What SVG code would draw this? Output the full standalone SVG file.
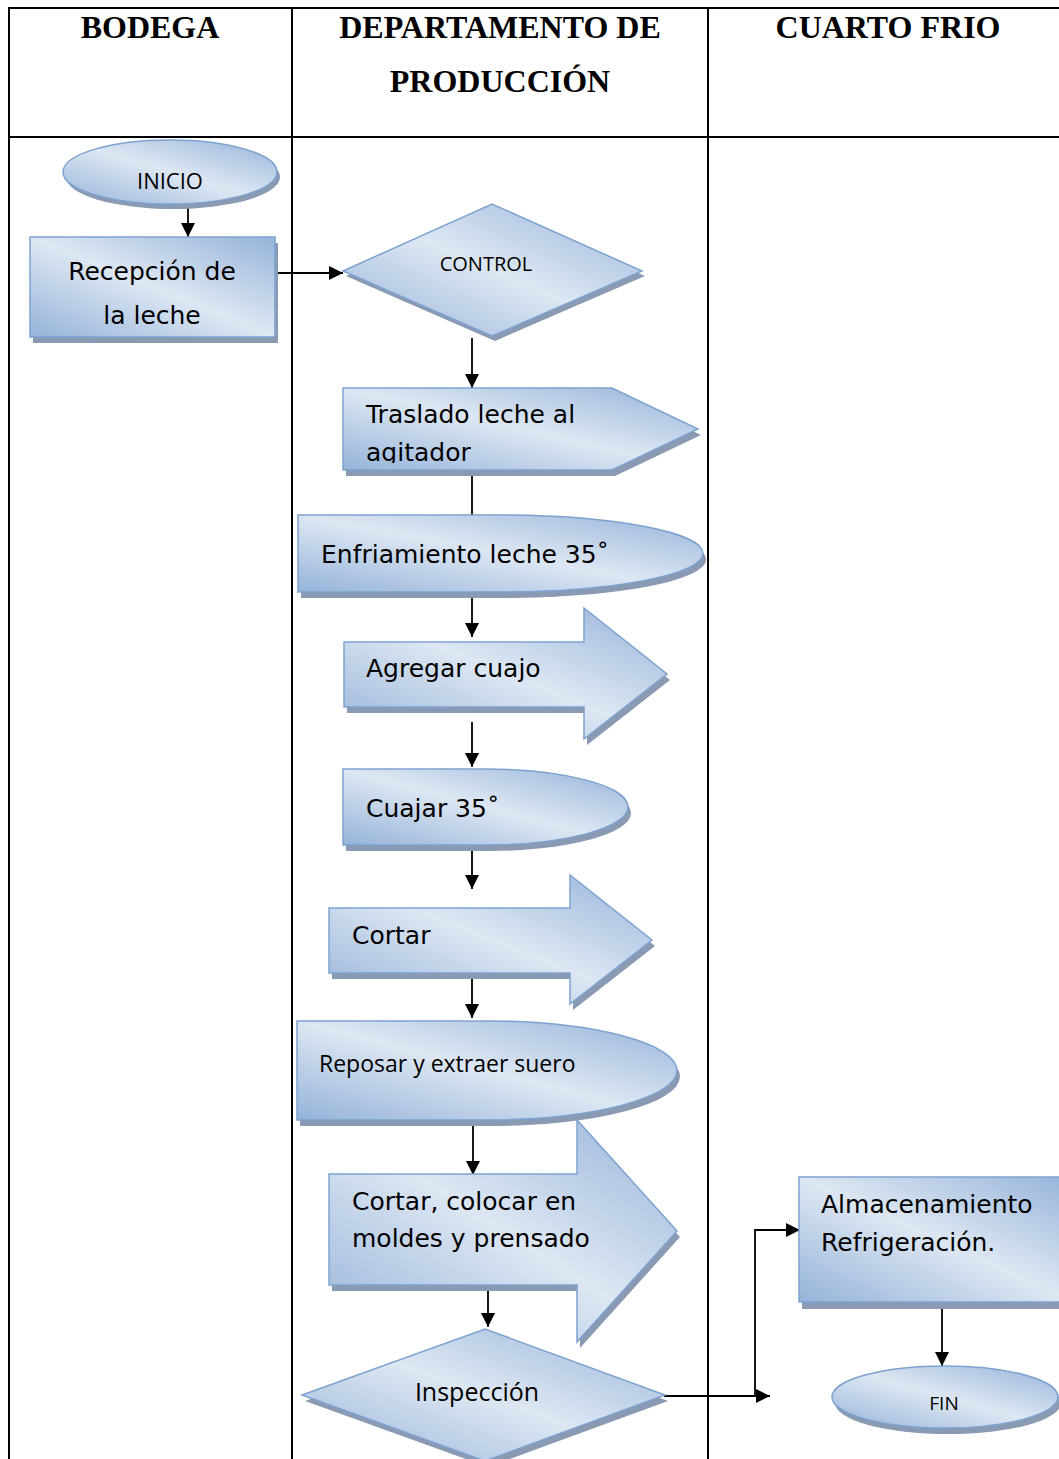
<svg xmlns="http://www.w3.org/2000/svg" xmlns:xlink="http://www.w3.org/1999/xlink" width="1059" height="1459" viewBox="0 0 1059 1459">
<style>
.tbl{stroke:#000;stroke-width:2;fill:none}
.hdr{font-family:"Liberation Serif","Times New Roman",serif;font-weight:bold;font-size:32px;fill:#000;text-anchor:middle}
.shape{fill:url(#g);stroke:#7da2d0;stroke-width:1.5}
.shd{fill:#8a9ab2;stroke:none}
.t1{font-family:"DejaVu Sans","Verdana",sans-serif;font-size:25px;fill:#000}
.t2{font-family:"Open Sans","Noto Sans",sans-serif;fill:#000}
.c{text-anchor:middle}
.cn{stroke:#000;stroke-width:1.8;fill:none}
.arr{marker-end:url(#ah)}
</style>
<defs>
<linearGradient id="g" x1="0" y1="1" x2="1" y2="0">
<stop offset="0" stop-color="#95b3d9"/>
<stop offset="0.5" stop-color="#dde7f3"/>
<stop offset="1" stop-color="#95b3d9"/>
</linearGradient>
<marker id="ah" markerUnits="userSpaceOnUse" markerWidth="14" markerHeight="14" refX="14" refY="7" orient="auto">
<path d="M0,0 L14,7 L0,14 Z" fill="#000"/>
</marker>
<clipPath id="clipTr"><rect x="340" y="380" width="370" height="83"/></clipPath>
<ellipse id="s-inicio" cx="170" cy="172" rx="107" ry="32"/>
<rect id="s-recep" x="30" y="237" width="245" height="100"/>
<polygon id="s-control" points="343,271 492,204 642,271 492,336"/>
<polygon id="s-trasl" points="343,388 612,388 698,429 612,470 343,470"/>
<path id="s-enfr" d="M298,515 H500 A203,38.5 0 0 1 500,592 H298 Z"/>
<polygon id="s-agreg" points="344,642 584,642 584,608 667,674 584,739 584,707 344,707"/>
<path id="s-cuajar" d="M343,769 H486 A142,38 0 0 1 486,845 H343 Z"/>
<polygon id="s-cortar" points="329,908 570,908 570,875 652,940 570,1004 570,973 329,973"/>
<path id="s-repos" d="M297,1021 H487 A190,49.5 0 0 1 487,1120 H297 Z"/>
<polygon id="s-cortcol" points="329,1174 577,1174 577,1120 677,1231 577,1342 577,1285 329,1285"/>
<polygon id="s-insp" points="302,1395 485,1329 665,1395 485,1461"/>
<rect id="s-alm" x="799" y="1177" width="275" height="125"/>
<ellipse id="s-fin" cx="945" cy="1397" rx="113" ry="31"/>
</defs>
<rect width="1059" height="1459" fill="#fff"/>
<g id="table">
<line class="tbl" x1="8" y1="8" x2="1070" y2="8"/>
<line class="tbl" x1="8" y1="137" x2="1070" y2="137"/>
<line class="tbl" x1="9" y1="7" x2="9" y2="1459"/>
<line class="tbl" x1="292" y1="7" x2="292" y2="1459"/>
<line class="tbl" x1="708" y1="7" x2="708" y2="1459"/>
<text class="hdr" x="150" y="38">BODEGA</text>
<text class="hdr" x="500" y="38">DEPARTAMENTO DE</text>
<text class="hdr" x="500" y="92">PRODUCCIÓN</text>
<text class="hdr" x="888" y="38">CUARTO FRIO</text>
</g>
<g id="connectors">
<path class="cn arr" d="M188,205 V237"/>
<path class="cn arr" d="M276,273 H343"/>
<path class="cn arr" d="M472,338 V388"/>
<path class="cn" d="M472,472 V515"/>
<path class="cn arr" d="M472,594 V637"/>
<path class="cn arr" d="M472,722 V767"/>
<path class="cn arr" d="M472,847 V889"/>
<path class="cn arr" d="M472,975 V1018"/>
<path class="cn arr" d="M473,1122 V1175"/>
<path class="cn arr" d="M488,1288 V1327"/>
<path class="cn arr" d="M664,1396 H770"/>
<path class="cn arr" d="M755,1396 V1230 H800"/>
<path class="cn arr" d="M942,1306 V1366"/>
</g>
<g id="n-inicio">
<use href="#s-inicio" class="shd" x="3" y="5"/>
<use href="#s-inicio" class="shape"/>
<text class="t2 c" x="170" y="189" font-size="22">INICIO</text>
</g>
<g id="n-recepcion">
<use href="#s-recep" class="shd" x="3" y="6"/>
<use href="#s-recep" class="shape"/>
<text class="t1 c" x="152" y="280">Recepción de</text>
<text class="t1 c" x="152" y="324">la leche</text>
</g>
<g id="n-control">
<use href="#s-control" class="shd" x="3" y="5"/>
<use href="#s-control" class="shape"/>
<text class="t2 c" x="486" y="271" font-size="20">CONTROL</text>
</g>
<g id="n-traslado">
<use href="#s-trasl" class="shd" x="3" y="6"/>
<use href="#s-trasl" class="shape"/>
<g clip-path="url(#clipTr)">
<text class="t1" x="366" y="423">Traslado leche al</text>
<text class="t1" x="366" y="461">agitador</text>
</g>
</g>
<g id="n-enfriamiento">
<use href="#s-enfr" class="shd" x="3" y="6"/>
<use href="#s-enfr" class="shape"/>
<text class="t1" x="321" y="563">Enfriamiento leche 35˚</text>
</g>
<g id="n-agregar">
<use href="#s-agreg" class="shd" x="3" y="6"/>
<use href="#s-agreg" class="shape"/>
<text class="t1" x="366" y="677">Agregar cuajo</text>
</g>
<g id="n-cuajar">
<use href="#s-cuajar" class="shd" x="3" y="6"/>
<use href="#s-cuajar" class="shape"/>
<text class="t1" x="366" y="817">Cuajar 35˚</text>
</g>
<g id="n-cortar">
<use href="#s-cortar" class="shd" x="3" y="6"/>
<use href="#s-cortar" class="shape"/>
<text class="t1" x="352" y="944">Cortar</text>
</g>
<g id="n-reposar">
<use href="#s-repos" class="shd" x="3" y="6"/>
<use href="#s-repos" class="shape"/>
<text class="t2" x="319" y="1072" font-size="23">Reposar y extraer suero</text>
</g>
<g id="n-cortar-colocar">
<use href="#s-cortcol" class="shd" x="3" y="6"/>
<use href="#s-cortcol" class="shape"/>
<text class="t1" x="352" y="1210">Cortar, colocar en</text>
<text class="t1" x="352" y="1247">moldes y prensado</text>
</g>
<g id="n-inspeccion">
<use href="#s-insp" class="shd" x="3" y="6"/>
<use href="#s-insp" class="shape"/>
<text class="t2 c" x="477" y="1401" font-size="25">Inspección</text>
</g>
<g id="n-almacenamiento">
<use href="#s-alm" class="shd" x="3" y="7"/>
<use href="#s-alm" class="shape"/>
<text class="t1" x="821" y="1213">Almacenamiento</text>
<text class="t1" x="821" y="1251">Refrigeración.</text>
</g>
<g id="n-fin">
<use href="#s-fin" class="shd" x="3" y="6"/>
<use href="#s-fin" class="shape"/>
<text class="t2 c" x="944" y="1410" font-size="19">FIN</text>
</g>
</svg>
